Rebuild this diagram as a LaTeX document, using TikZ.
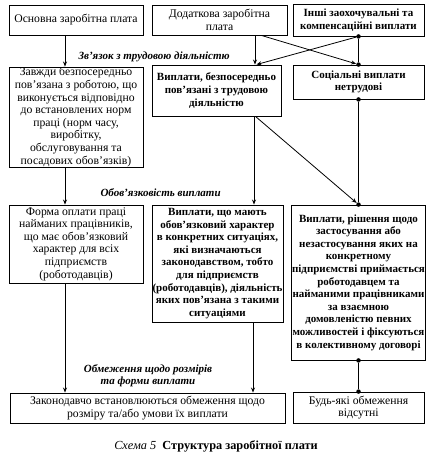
\documentclass[tikz,border=0pt]{standalone}
\usepackage{fontspec}
\setmainfont{Liberation Serif}
\usetikzlibrary{arrows.meta,calc}
\begin{document}
\begin{tikzpicture}[x=1pt,y=-1pt,
 box/.style={draw,line width=0.9pt,align=center,inner sep=0.5pt,font=\fontsize{11.7}{12.6}\selectfont},
 bbox/.style={box,font=\fontsize{11}{12.6}\selectfont\bfseries},
 arr/.style={line width=0.8pt,-{Stealth[length=5pt,width=4pt]}},
 ln/.style={line width=0.8pt},
 dot/.style={circle,fill,inner sep=0pt,minimum size=4.5pt},
 lab/.style={font=\fontsize{11}{12}\selectfont\bfseries\itshape,align=center}]
\useasboundingbox (0,0) rectangle (431,461);
% top row
\node[box,minimum width=134pt,minimum height=30pt] (A) at (76,20) {Основна заробітна плата};
\node[box,minimum width=135pt,minimum height=30pt] (B) at (219.5,20) {Додаткова заробітна\\плата};
\node[bbox,minimum width=131pt,minimum height=32pt] (C) at (358.5,20) {Інші заохочувальні та\\компенсаційні виплати};
% second row
\node[box,minimum width=134pt,minimum height=100pt] (D) at (76,117) {Завжди безпосередньо\\пов'язана з роботою, що\\виконується відповідно\\до встановлених норм\\праці (норм часу,\\виробітку,\\обслуговування та\\посадових обов'язків)};
\node[bbox,minimum width=129pt,minimum height=51pt] (E) at (216.5,90.5) {Виплати, безпосередньо\\пов'язані з трудовою\\діяльністю};
\node[bbox,minimum width=131pt,minimum height=34pt] (F) at (358.5,82) {Соціальні виплати\\нетрудові};
% third row
\node[box,minimum width=134pt,minimum height=78pt] (G) at (76,244) {Форма оплати праці\\найманих працівників,\\що має обов'язковий\\характер для всіх\\підприємств\\(роботодавців)};
\node[bbox,minimum width=131pt,minimum height=117pt] (H) at (217.5,263.5) {Виплати, що мають\\обов'язковий характер\\в конкретних ситуаціях,\\які визначаються\\законодавством, тобто\\для підприємств\\(роботодавців), діяльність\\яких пов'язана з такими\\ситуаціями};
\node[bbox,minimum width=131pt,minimum height=155pt] (I) at (358.5,282.5) {Виплати, рішення щодо\\застосування або\\незастосування яких на\\конкретному\\підприємстві приймається\\роботодавцем та\\найманими працівниками\\за взаємною\\домовленістю певних\\можливостей і фіксуються\\в колективному договорі};
% bottom row
\node[box,minimum width=275pt,minimum height=30pt] (J) at (147.5,408) {Законодавчо встановлюються обмеження щодо\\розміру та/або умови їх виплати};
\node[box,minimum width=131pt,minimum height=31pt] (K) at (358.5,407.5) {Будь-які обмеження\\відсутні};
% dots
\node[dot] (cs) at (C.south) {};
\node[dot] (fn) at (F.north) {};
\node[dot] (fs) at (F.south) {};
\node[dot] (in) at (I.north) {};
\node[dot] (is) at (I.south) {};
\node[dot] (kn) at (K.north) {};
% labels
\node[lab,anchor=west] (l1) at (75,57) {Зв'язок з трудовою діяльністю};
\node[lab,anchor=west] (l2) at (97,193) {Обов'язковість виплати};
\node[lab] (l3) at (148,376) {Обмеження щодо розмірів\\та форми виплати};
\node (cap) at (216,446) {\fontsize{12.3}{14}\selectfont\itshape Схема 5\ \ \bfseries\upshape Структура заробітної плати};
% connectors
\draw[arr] ([xshift=-11pt]A.south) -- ([xshift=-11pt]A.south |- D.north);
\draw[arr] ([xshift=-11pt]D.south) -- ([xshift=-11pt]D.south |- G.north);
\draw[arr] ([xshift=-11pt]G.south) -- ([xshift=-11pt]G.south |- J.north);
\draw[arr] ([xshift=35.5pt]B.south) -- ([xshift=35.5pt]B.south |- E.north);
\draw[arr] ([xshift=42pt]B.south) -- (fn);
\draw[arr] (cs) -- ([xshift=40pt]E.north);
\draw[ln] (cs) -- (fn);
\draw[arr] ([xshift=37.5pt]E.south) -- ([xshift=37.5pt]E.south |- H.north);
\draw[arr] ([xshift=39pt]E.south) -- (in);
\draw[ln] (fs) -- (in);
\draw[arr] ([xshift=35.5pt]H.south) -- ([xshift=35.5pt]H.south |- J.north);
\draw[ln] (is) -- (kn);
\end{tikzpicture}
\end{document}
